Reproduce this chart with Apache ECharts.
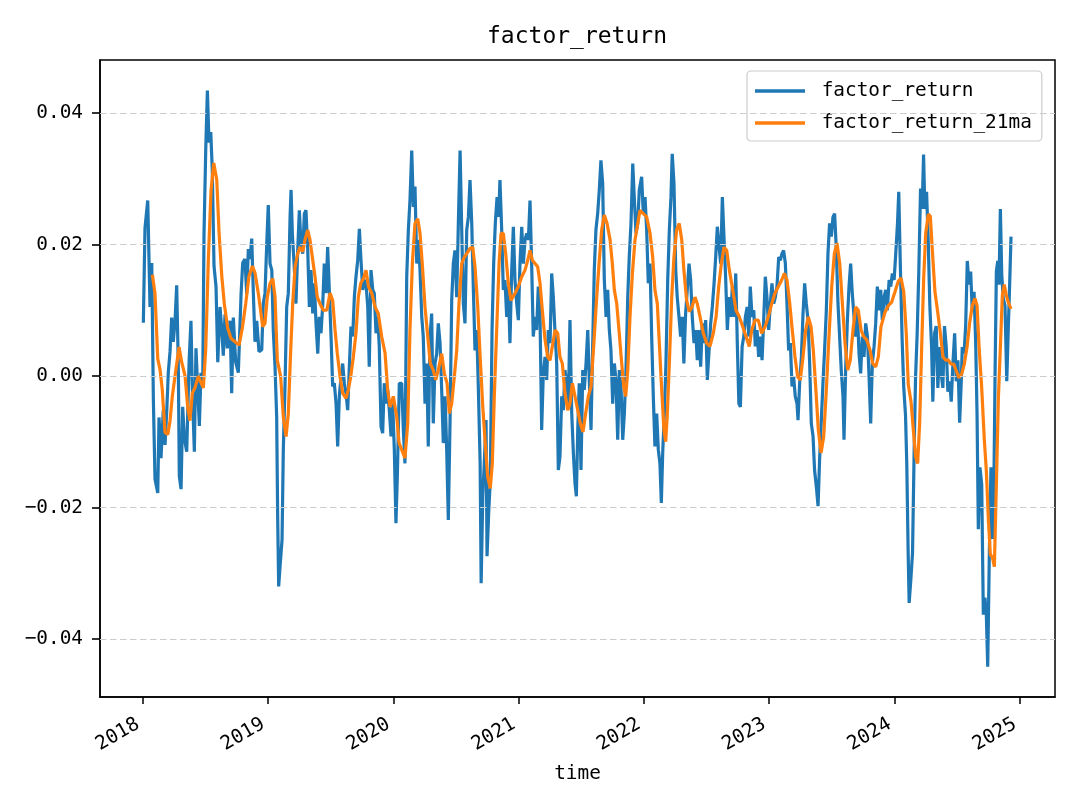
<!DOCTYPE html>
<html><head><meta charset="utf-8">
<script src="https://cdn.jsdelivr.net/npm/echarts@6/dist/echarts.min.js"></script>
<style>html,body{margin:0;padding:0;background:#fff}#chart{width:1080px;height:810px}</style>
</head><body><div id="chart"></div>
<script>
const titleText = 'factor_return';
const seriesNames = ['factor_return', 'factor_return_21ma'];
const xAxisName = 'time';
const xTickYears = [2018, 2019, 2020, 2021, 2022, 2023, 2024, 2025];
const yTickValues = [-0.04, -0.02, 0, 0.02, 0.04];
const xRange = [2017.659, 2025.281];
const yRange = [-0.04882, 0.04806];

// [decimal year, value]
const factorReturn = [
[2018.005,0.0081],[2018.018,0.0225],[2018.040,0.0267],[2018.050,0.0178],[2018.058,0.0105],[2018.072,0.0172],[2018.085,-0.0037],[2018.098,-0.0157],[2018.120,-0.0178],[2018.130,-0.0063],[2018.146,-0.0125],[2018.164,-0.0052],[2018.178,-0.0105],[2018.192,-0.0052],[2018.204,0.0005],[2018.218,0.0037],[2018.231,0.0089],[2018.244,0.0052],[2018.258,0.0084],[2018.271,0.0138],[2018.284,0.0016],[2018.292,-0.0152],[2018.306,-0.0172],[2018.319,-0.0047],[2018.332,-0.0094],[2018.351,-0.0115],[2018.370,0.0021],[2018.385,0.0084],[2018.396,-0.0021],[2018.412,-0.0115],[2018.425,0.0042],[2018.439,-0.0021],[2018.452,-0.0076],[2018.465,0.0005],[2018.479,-0.001],[2018.489,0.0214],[2018.503,0.0345],[2018.516,0.0434],[2018.529,0.0355],[2018.543,0.0371],[2018.555,0.0314],[2018.569,0.0167],[2018.585,0.0136],[2018.599,0.0021],[2018.617,0.0105],[2018.630,0.0073],[2018.643,0.0031],[2018.657,0.0094],[2018.675,0.0042],[2018.697,0.0084],[2018.710,-0.0026],[2018.723,0.0089],[2018.742,0.0021],[2018.763,0.0005],[2018.785,0.0125],[2018.798,0.0172],[2018.816,0.0178],[2018.830,0.0125],[2018.843,0.0193],[2018.856,0.0178],[2018.870,0.0209],[2018.883,0.0125],[2018.896,0.0052],[2018.910,0.0084],[2018.928,0.0037],
[2018.950,0.004],[2018.962,0.011],[2018.976,0.0126],[2018.990,0.0202],[2019.002,0.026],[2019.016,0.0171],[2019.030,0.0161],[2019.042,0.007],[2019.056,0.0014],[2019.069,-0.0062],[2019.077,-0.0214],[2019.085,-0.032],[2019.096,-0.029],[2019.112,-0.0249],[2019.122,-0.0112],[2019.136,-0.0011],[2019.149,0.0105],[2019.162,0.0126],[2019.176,0.0242],[2019.184,0.0283],[2019.194,0.0217],[2019.208,0.0171],[2019.223,0.011],[2019.237,0.0191],[2019.250,0.0252],[2019.263,0.0202],[2019.277,0.0186],[2019.290,0.0247],[2019.303,0.0252],[2019.317,0.0191],[2019.330,0.0105],[2019.343,0.0161],[2019.357,0.0095],[2019.370,0.0141],[2019.383,0.008],[2019.397,0.0034],[2019.409,0.009],[2019.423,0.0065],[2019.437,0.011],[2019.449,0.0171],[2019.463,0.0126],[2019.476,0.0196],[2019.489,0.0131],[2019.503,0.006],[2019.516,-0.0016],[2019.529,-0.0011],[2019.543,-0.0042],[2019.556,-0.0107],[2019.569,-0.0031],[2019.583,-0.0001],[2019.596,0.0019],[2019.609,-0.0011],[2019.622,-0.0026],[2019.636,-0.0052],[2019.649,0.0014],[2019.662,0.0075],[2019.676,0.006],[2019.689,0.012],[2019.702,0.0151],[2019.716,0.0176],[2019.729,0.0224],[2019.742,0.0176],[2019.756,0.0131],[2019.769,0.0146],[2019.782,0.0141],[2019.796,0.0105],[2019.808,0.0014],[2019.822,0.0161],[2019.836,0.0131],[2019.848,0.0126],[2019.862,0.0065],[2019.876,0.009],[2019.888,0.0045],[2019.902,-0.0077],[2019.915,-0.0087],[2019.928,-0.0011],[2019.942,-0.0042],[2019.955,-0.0021],[2019.968,-0.0052],[2019.982,-0.0092],[2019.995,-0.0042],[2020.008,-0.0112],[2020.021,-0.0224],[2020.032,-0.0153],[2020.048,-0.0011],
[2020.067,-0.0011],[2020.080,-0.0082],[2020.093,-0.0133],[2020.107,0.0151],[2020.120,0.0222],[2020.133,0.0267],[2020.147,0.0343],[2020.160,0.0257],[2020.173,0.0288],[2020.187,0.0171],[2020.200,0.0207],[2020.213,0.0161],[2020.227,0.009],[2020.239,0.006],[2020.253,-0.0042],[2020.267,0.0019],[2020.279,-0.0107],[2020.293,0.006],[2020.306,0.0095],[2020.319,-0.0072],[2020.333,0.0019],[2020.346,0.0034],[2020.359,0.008],[2020.373,0.005],[2020.386,-0.0021],[2020.399,-0.0102],[2020.413,-0.0031],[2020.426,-0.0112],[2020.439,-0.0219],[2020.453,-0.0067],[2020.466,0.0115],[2020.479,0.0171],[2020.492,0.0191],[2020.506,0.012],[2020.519,0.0232],[2020.533,0.0343],[2020.546,0.0222],[2020.559,0.011],[2020.572,0.008],[2020.586,0.0222],[2020.599,0.0242],[2020.612,0.0298],[2020.626,0.0232],[2020.639,0.0131],[2020.652,0.0039],[2020.666,0.007],[2020.679,-0.0021],[2020.693,-0.0133],[2020.701,-0.0315],[2020.714,-0.0183],[2020.726,-0.0133],[2020.740,-0.0067],[2020.748,-0.0274],[2020.761,-0.0209],[2020.774,-0.0158],[2020.788,0.007],[2020.801,0.0171],[2020.814,0.0232],[2020.828,0.0272],[2020.841,0.0242],[2020.851,0.0298],[2020.865,0.0222],[2020.878,0.0131],[2020.891,0.0146],[2020.905,0.009],[2020.918,0.0136],[2020.931,0.005],[2020.945,0.0161],[2020.958,0.0227],[2020.971,0.0146],[2020.985,0.011],[2020.998,0.0085],[2021.011,0.0171],[2021.025,0.0227],[2021.038,0.0171],
[2021.051,0.0207],[2021.065,0.0217],[2021.078,0.0207],[2021.091,0.0267],[2021.104,0.0171],[2021.117,0.006],[2021.131,0.009],[2021.144,0.007],[2021.157,0.0136],[2021.171,0.009],[2021.184,-0.0082],[2021.197,0.0004],[2021.211,0.0029],[2021.224,-0.0006],[2021.237,0.007],[2021.251,0.005],[2021.264,0.0156],[2021.277,0.012],[2021.291,0.0065],[2021.304,0.0019],[2021.317,-0.0143],[2021.330,-0.0123],[2021.344,-0.0031],[2021.357,-0.0052],[2021.370,0.0009],[2021.384,-0.0011],[2021.397,-0.0042],[2021.410,0.0085],[2021.424,-0.0057],[2021.437,-0.0117],[2021.450,-0.0163],[2021.461,-0.0183],[2021.472,-0.0082],[2021.484,-0.0011],[2021.498,-0.0143],[2021.512,0.0009],[2021.524,-0.0021],[2021.538,0.0019],[2021.552,0.007],[2021.564,-0.0006],[2021.578,-0.0082],[2021.591,0.0045],[2021.604,0.0161],[2021.617,0.0222],[2021.631,0.0247],[2021.644,0.0283],[2021.657,0.0328],[2021.671,0.0293],[2021.684,0.0146],[2021.698,0.009],[2021.711,0.0131],[2021.724,0.007],[2021.737,0.0039],[2021.751,-0.0042],[2021.764,0.0019],[2021.777,-0.0006],[2021.791,-0.0097],[2021.804,0.0009],[2021.818,-0.0021],[2021.831,-0.0097],[2021.844,-0.0057],[2021.857,0.0009],[2021.871,0.012],[2021.883,0.0181],[2021.897,0.0232],[2021.911,0.0323],[2021.923,0.0272],[2021.937,0.0217],[2021.951,0.0232],[2021.963,0.0283],
[2021.982,0.0303],[2021.995,0.0247],[2022.009,0.0272],[2022.022,0.0222],[2022.035,0.0141],[2022.049,0.0171],[2022.062,0.006],[2022.075,-0.0031],[2022.088,-0.0107],[2022.102,-0.0057],[2022.115,-0.0112],[2022.128,-0.0133],[2022.139,-0.0193],[2022.150,-0.0117],[2022.163,-0.0057],[2022.176,0.0019],[2022.190,0.0146],[2022.203,0.0222],[2022.216,0.0272],[2022.226,0.0338],[2022.240,0.0293],[2022.254,0.0161],[2022.266,0.012],[2022.280,0.009],[2022.293,0.006],[2022.306,0.009],[2022.319,0.0019],[2022.333,0.0095],[2022.346,0.0131],[2022.360,0.0171],[2022.373,0.0146],[2022.386,0.009],[2022.400,0.005],[2022.413,0.007],[2022.426,0.0024],[2022.440,0.007],[2022.453,0.0014],[2022.466,0.008],[2022.480,0.005],[2022.493,0.0085],[2022.506,-0.0006],[2022.520,0.0039],[2022.533,0.008],[2022.546,0.0105],[2022.560,0.0141],[2022.573,0.0181],[2022.586,0.0227],[2022.600,0.0196],[2022.613,0.0171],[2022.626,0.0272],[2022.640,0.0207],[2022.653,0.0146],[2022.666,0.007],[2022.680,0.012],[2022.693,0.009],[2022.706,0.0136],[2022.720,0.009],[2022.733,0.0156],[2022.746,0.0045],[2022.758,-0.0042],[2022.770,-0.0047],[2022.784,0.0045],[2022.797,0.006],[2022.810,0.009],[2022.824,0.0105],[2022.837,0.006],[2022.849,0.0136],[2022.863,0.009],[2022.877,0.01],[2022.889,0.0045],[2022.903,0.007],[2022.916,0.0029],[2022.929,0.006],[2022.943,0.0024],[2022.956,0.0085],[2022.969,0.0151],[2022.982,0.012],[2022.996,0.007],[2023.009,0.011],[2023.022,0.0141],[2023.036,0.011],[2023.049,0.012],[2023.062,0.0136],[2023.076,0.0181],
[2023.089,0.0176],[2023.102,0.0186],[2023.115,0.0191],[2023.129,0.0171],[2023.142,0.011],[2023.155,0.0039],[2023.169,0.005],[2023.182,-0.0016],[2023.195,-0.0001],[2023.208,-0.0031],[2023.222,-0.0042],[2023.230,-0.0067],[2023.243,-0.0011],[2023.257,0.0029],[2023.270,0.0095],[2023.283,0.0141],[2023.296,0.011],[2023.310,0.0085],[2023.323,0.0019],[2023.336,-0.0072],[2023.350,-0.0092],[2023.362,-0.0143],[2023.376,-0.0168],[2023.390,-0.0198],[2023.402,-0.0128],[2023.416,-0.0067],[2023.429,-0.0011],[2023.442,0.0039],[2023.456,0.01],[2023.469,0.0186],[2023.482,0.0232],[2023.496,0.0212],[2023.509,0.0242],[2023.522,0.0247],[2023.535,0.0196],[2023.549,0.011],[2023.562,0.006],[2023.575,0.0009],[2023.589,-0.0031],[2023.597,-0.0097],[2023.610,0.0009],[2023.624,0.0085],[2023.637,0.0136],[2023.650,0.0171],[2023.663,0.0126],[2023.677,0.009],[2023.690,0.006],[2023.703,0.01],[2023.717,0.0034],[2023.730,0.0004],[2023.743,0.006],[2023.757,0.0029],[2023.770,0.008],[2023.784,0.006],[2023.797,-0.0001],[2023.810,-0.0072],[2023.823,0.0019],[2023.837,0.0045],[2023.850,0.008],[2023.863,0.0136],[2023.877,0.01],[2023.890,0.0131],[2023.903,0.0085],[2023.917,0.012],[2023.930,0.0131],[2023.943,0.01],[2023.957,0.0146],[2023.970,0.0136],[2023.983,0.0156],[2023.997,0.0146],[2024.010,0.0186],[2024.024,0.0232],
[2024.034,0.028],[2024.047,0.0165],[2024.061,0.0055],[2024.074,-0.0018],[2024.088,-0.006],[2024.098,-0.0133],[2024.109,-0.0269],[2024.117,-0.0345],[2024.130,-0.0311],[2024.144,-0.0269],[2024.157,-0.0112],[2024.168,-0.0003],[2024.181,0.0065],[2024.194,0.0159],[2024.208,0.0285],[2024.221,0.0254],[2024.232,0.0337],[2024.242,0.0254],[2024.256,0.028],[2024.269,0.0207],[2024.282,0.0107],[2024.296,0.0044],[2024.306,-0.0039],[2024.320,0.0065],[2024.333,0.0076],[2024.346,-0.0018],[2024.360,0.0044],[2024.373,0.0003],[2024.386,-0.0018],[2024.399,0.0076],[2024.413,0.0044],[2024.426,-0.0024],[2024.440,-0.0008],[2024.453,-0.0039],[2024.466,0.0018],[2024.480,0.0065],[2024.493,-0.0008],[2024.506,0.0024],[2024.520,-0.0071],[2024.533,-0.0008],[2024.541,0.0044],[2024.555,0.0034],[2024.568,0.0076],[2024.581,0.0175],[2024.595,0.0139],[2024.608,0.0159],[2024.621,0.0097],[2024.635,0.0128],[2024.648,0.005],[2024.659,-0.006],[2024.669,-0.0233],[2024.682,-0.0139],[2024.696,-0.0165],[2024.709,-0.0363],[2024.722,-0.0337],[2024.733,-0.0363],[2024.744,-0.0442],[2024.757,-0.0269],[2024.770,-0.0139],[2024.781,-0.0248],[2024.792,-0.0191],[2024.802,-0.0008],[2024.813,0.0159],[2024.824,0.0175],[2024.834,0.0139],[2024.845,0.0254],[2024.856,0.0154],[2024.868,0.0118],[2024.882,0.0107],[2024.896,-0.0008],[2024.908,0.0071],[2024.919,0.0139],[2024.930,0.0212]
];

const factorReturn21ma = [
[2018.077,0.0154],[2018.098,0.0125],[2018.120,0.0026],[2018.138,0.001],[2018.156,-0.0021],[2018.178,-0.0086],[2018.200,-0.0089],[2018.218,-0.0068],[2018.236,-0.0031],[2018.258,0.0],[2018.290,0.0044],[2018.311,0.0021],[2018.338,0.0],[2018.359,-0.0047],[2018.377,-0.0068],[2018.396,-0.0026],[2018.417,-0.0018],[2018.444,0.0],[2018.465,-0.001],[2018.484,-0.0018],[2018.503,0.0042],[2018.524,0.0178],[2018.545,0.0282],[2018.567,0.0324],[2018.591,0.0298],[2018.609,0.0219],[2018.631,0.0152],[2018.651,0.011],[2018.678,0.0073],[2018.705,0.0057],[2018.737,0.0052],[2018.769,0.0047],[2018.795,0.0073],[2018.822,0.011],[2018.848,0.0152],[2018.875,0.0167],[2018.896,0.0157],[2018.923,0.0125],[2018.958,0.0075],[2018.976,0.008],[2018.994,0.012],
[2019.016,0.0141],[2019.038,0.0148],[2019.056,0.012],[2019.074,0.0024],[2019.101,-0.0001],[2019.122,-0.0062],[2019.144,-0.0092],[2019.162,-0.0057],[2019.181,0.0039],[2019.197,0.011],[2019.216,0.0166],[2019.237,0.0186],[2019.255,0.0196],[2019.277,0.0189],[2019.295,0.0207],[2019.317,0.0222],[2019.335,0.0207],[2019.357,0.0176],[2019.375,0.0151],[2019.393,0.012],[2019.415,0.011],[2019.441,0.01],[2019.469,0.01],[2019.495,0.0126],[2019.516,0.0115],[2019.535,0.007],[2019.553,0.0034],[2019.575,-0.0001],[2019.596,-0.0026],[2019.622,-0.0034],[2019.641,-0.0021],[2019.660,-0.0001],[2019.681,0.0029],[2019.702,0.0065],[2019.721,0.012],[2019.740,0.0141],[2019.761,0.0148],[2019.782,0.0161],[2019.801,0.0136],[2019.828,0.0126],[2019.854,0.0105],[2019.880,0.0095],[2019.907,0.006],[2019.934,0.0035],[2019.955,-0.0021],[2019.974,-0.0047],
[2020.000,-0.0031],[2020.027,-0.0062],[2020.046,-0.0102],[2020.067,-0.0112],[2020.093,-0.0125],[2020.115,-0.0072],[2020.133,0.007],[2020.152,0.0171],[2020.173,0.0232],[2020.195,0.0239],[2020.213,0.0217],[2020.231,0.0171],[2020.253,0.0105],[2020.275,0.006],[2020.295,0.0019],[2020.319,0.0009],[2020.338,-0.0006],[2020.359,0.0009],[2020.386,0.0034],[2020.407,0.0004],[2020.429,-0.0011],[2020.447,-0.0057],[2020.466,-0.0042],[2020.487,-0.0001],[2020.506,0.0039],[2020.524,0.011],[2020.546,0.0171],[2020.567,0.0181],[2020.586,0.0186],[2020.612,0.0194],[2020.634,0.0196],[2020.652,0.0166],[2020.674,0.0105],[2020.693,0.0029],[2020.714,-0.0047],[2020.732,-0.0097],[2020.753,-0.0153],[2020.774,-0.0171],[2020.790,-0.0133],[2020.806,-0.0031],[2020.825,0.007],[2020.844,0.0171],[2020.860,0.0217],[2020.878,0.0217],[2020.897,0.0186],[2020.918,0.0141],[2020.939,0.0115],[2020.971,0.0126],[2020.998,0.0136],
[2021.025,0.0151],[2021.051,0.0161],[2021.073,0.0176],[2021.091,0.0191],[2021.110,0.0176],[2021.131,0.0171],[2021.152,0.0166],[2021.171,0.0141],[2021.189,0.01],[2021.211,0.0055],[2021.232,0.0029],[2021.251,0.0024],[2021.269,0.0045],[2021.291,0.007],[2021.312,0.0065],[2021.330,0.0029],[2021.349,0.0019],[2021.370,-0.0026],[2021.392,-0.0052],[2021.410,-0.0042],[2021.429,-0.0011],[2021.450,-0.0031],[2021.472,-0.0052],[2021.492,-0.0072],[2021.514,-0.0085],[2021.535,-0.0057],[2021.556,-0.0031],[2021.578,-0.0016],[2021.599,0.0045],[2021.620,0.011],[2021.642,0.0171],[2021.663,0.0222],[2021.684,0.0245],[2021.706,0.0232],[2021.730,0.0207],[2021.748,0.0171],[2021.764,0.0131],[2021.783,0.011],[2021.801,0.007],[2021.823,0.0019],[2021.839,-0.0016],[2021.855,-0.0031],[2021.871,0.0009],[2021.889,0.009],[2021.908,0.0156],[2021.929,0.0207],[2021.951,0.0232],[2021.969,0.0252],[2021.995,0.0247],
[2022.022,0.0242],[2022.049,0.0217],[2022.070,0.0181],[2022.088,0.0131],[2022.107,0.011],[2022.123,0.005],[2022.142,-0.0021],[2022.160,-0.0082],[2022.174,-0.01],[2022.187,-0.0057],[2022.203,0.0019],[2022.222,0.012],[2022.240,0.0181],[2022.261,0.0222],[2022.282,0.0232],[2022.302,0.0207],[2022.319,0.0161],[2022.341,0.0115],[2022.362,0.0098],[2022.384,0.0105],[2022.408,0.012],[2022.426,0.011],[2022.448,0.009],[2022.474,0.0065],[2022.501,0.005],[2022.527,0.0045],[2022.554,0.0065],[2022.576,0.009],[2022.597,0.0136],[2022.618,0.0171],[2022.640,0.0196],[2022.661,0.0191],[2022.682,0.0161],[2022.709,0.0131],[2022.735,0.01],[2022.761,0.009],[2022.789,0.0075],[2022.815,0.006],[2022.841,0.0045],[2022.861,0.007],[2022.887,0.0085],[2022.913,0.0085],[2022.940,0.0065],[2022.967,0.0075],[2022.993,0.009],
[2023.020,0.011],[2023.046,0.0126],[2023.073,0.0136],[2023.100,0.0146],[2023.121,0.0156],[2023.142,0.0146],[2023.164,0.011],[2023.184,0.007],[2023.206,0.0029],[2023.227,-0.0001],[2023.248,-0.0006],[2023.270,0.0029],[2023.291,0.007],[2023.312,0.009],[2023.334,0.0075],[2023.352,0.0039],[2023.371,-0.0016],[2023.392,-0.0082],[2023.414,-0.0117],[2023.435,-0.0092],[2023.456,-0.0021],[2023.477,0.006],[2023.499,0.0136],[2023.520,0.0186],[2023.541,0.0202],[2023.563,0.0171],[2023.584,0.011],[2023.605,0.005],[2023.627,0.0009],[2023.647,0.0024],[2023.669,0.007],[2023.690,0.0105],[2023.711,0.01],[2023.733,0.007],[2023.754,0.006],[2023.778,0.0055],[2023.805,0.0039],[2023.826,0.0019],[2023.850,0.0014],[2023.871,0.0029],[2023.892,0.0075],[2023.914,0.009],[2023.924,0.0097],[2023.951,0.0107],[2023.977,0.0112],
[2024.004,0.0128],[2024.030,0.0144],[2024.052,0.0149],[2024.074,0.0128],[2024.094,0.0065],[2024.110,-0.0013],[2024.132,-0.0039],[2024.150,-0.0081],[2024.169,-0.0123],[2024.185,-0.0133],[2024.201,-0.0071],[2024.217,0.0044],[2024.233,0.0149],[2024.249,0.0217],[2024.270,0.0246],[2024.286,0.0243],[2024.302,0.0191],[2024.323,0.0128],[2024.345,0.0097],[2024.366,0.0065],[2024.387,0.0029],[2024.409,0.0024],[2024.430,0.0024],[2024.451,0.0018],[2024.473,0.0018],[2024.493,0.0008],[2024.515,-0.0003],[2024.536,0.0003],[2024.557,0.0018],[2024.579,0.0044],[2024.600,0.0081],[2024.621,0.0107],[2024.643,0.0118],[2024.659,0.0107],[2024.675,0.0044],[2024.696,-0.0018],[2024.717,-0.0097],[2024.733,-0.0144],[2024.749,-0.0217],[2024.765,-0.0272],[2024.781,-0.0275],[2024.797,-0.029],[2024.813,-0.0165],[2024.829,-0.0034],[2024.845,0.0044],[2024.861,0.0123],[2024.876,0.0139],[2024.892,0.0123],[2024.908,0.0112],[2024.930,0.0102]
];

const FONT = "'DejaVu Sans Mono', monospace";
const BLUE = '#1f77b4', ORANGE = '#ff7f0e';

const chart = echarts.init(document.getElementById('chart'), null, {renderer: 'canvas'});
chart.setOption({
  animation: false,
  backgroundColor: '#ffffff',
  title: {
    text: titleText, left: 577, top: 26, textAlign: 'center', padding: 0,
    textStyle: {fontFamily: FONT, fontSize: 23, fontWeight: 'normal', color: '#000'}
  },
  legend: {
    data: seriesNames, orient: 'vertical', left: 747, top: 71,
    icon: 'rect', itemWidth: 50, itemHeight: 3.5, itemGap: 10,
    padding: [9, 10, 7, 8],
    backgroundColor: 'rgba(255,255,255,0.8)', borderColor: '#cccccc', borderWidth: 1.2, borderRadius: 4,
    formatter: n => ' ' + n,
    textStyle: {fontFamily: FONT, fontSize: 19.4, color: '#000', lineHeight: 22}
  },
  grid: {left: 100, right: 25, top: 60, bottom: 113, show: true, borderColor: '#000', borderWidth: 1.5, backgroundColor: 'transparent'},
  xAxis: {
    type: 'value', min: xRange[0], max: xRange[1], position: 'bottom',
    name: xAxisName, nameLocation: 'middle', nameGap: 67,
    nameTextStyle: {fontFamily: FONT, fontSize: 19.4, color: '#000'},
    axisLine: {show: true, onZero: false, lineStyle: {color: '#000', width: 1.5}}, splitLine: {show: false},
    axisTick: {show: true, inside: false, customValues: xTickYears, length: 7, lineStyle: {color: '#000', width: 1.5}},
    axisLabel: {customValues: xTickYears, rotate: 30, align: 'right', verticalAlign: 'bottom', margin: 34,
      formatter: v => String(Math.round(v)), fontFamily: FONT, fontSize: 19.4, color: '#000'}
  },
  yAxis: {
    type: 'value', min: yRange[0], max: yRange[1], position: 'left',
    axisLine: {show: true, onZero: false, lineStyle: {color: '#000', width: 1.5}}, splitLine: {show: false},
    axisTick: {show: true, inside: false, customValues: yTickValues, length: 8, lineStyle: {color: '#000', width: 1.6}},
    axisLabel: {customValues: yTickValues, margin: 17,
      formatter: v => (v < -1e-9 ? '\u2212' : '') + Math.abs(v).toFixed(2),
      fontFamily: FONT, fontSize: 19.4, color: '#000'}
  },
  series: [
    {type: 'line', name: 'gridlines', data: [], silent: true, z: 1,
     markLine: {silent: true, symbol: 'none', animation: false, label: {show: false},
       lineStyle: {color: '#cccccc', width: 1.2, type: [6.5, 3.5]},
       data: yTickValues.map(v => ({yAxis: v}))}},
    {type: 'line', name: seriesNames[0], data: factorReturn, showSymbol: false, z: 2,
     lineStyle: {color: BLUE, width: 3.2}, itemStyle: {color: BLUE}},
    {type: 'line', name: seriesNames[1], data: factorReturn21ma, showSymbol: false, z: 3,
     lineStyle: {color: ORANGE, width: 3.2}, itemStyle: {color: ORANGE}}
  ]
});
</script>
</body></html>
